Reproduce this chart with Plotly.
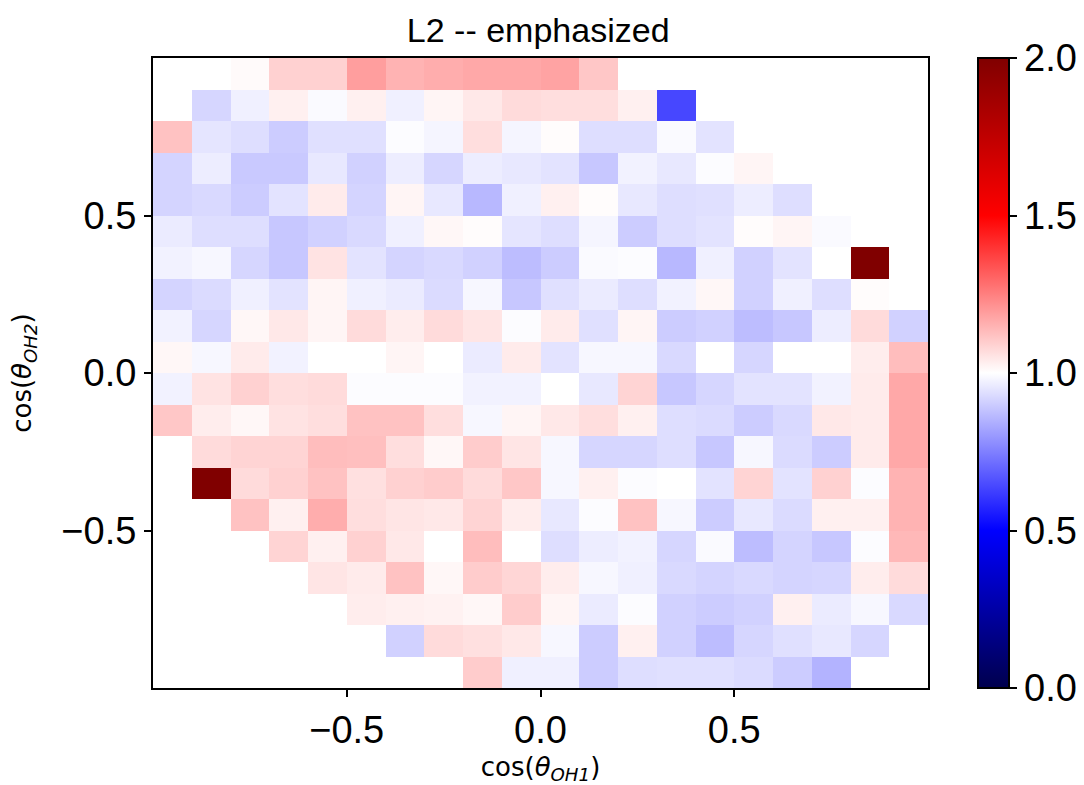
import plotly.graph_objects as go

# Bin centres of the 20 x 20 grid on [-1, 1] x [-1, 1]
x_centers = [round(-0.95 + 0.1 * i, 2) for i in range(20)]
y_centers_top_down = [round(0.95 - 0.1 * j, 2) for j in range(20)]

N = None  # empty bin

# Ratio values, one list per row, from the top row (cos θ_OH2 ≈ 0.95) downwards
row_00 = [N, N, 1.01, 1.09, 1.09, 1.19, 1.15, 1.16, 1.17, 1.17, 1.18, 1.11, N, N, N, N, N, N, N, N]
row_01 = [N, 0.92, 0.97, 1.03, 0.99, 1.03, 0.97, 1.02, 1.045, 1.07, 1.065, 1.065, 1.03, 0.64, N, N, N, N, N, N]
row_02 = [1.12, 0.95, 0.935, 0.90, 0.94, 0.94, 0.995, 0.98, 1.065, 0.98, 1.005, 0.935, 0.935, 0.99, 0.945, N, N, N, N, N]
row_03 = [0.915, 0.965, 0.895, 0.895, 0.955, 0.91, 0.965, 0.92, 0.965, 0.955, 0.945, 0.89, 0.975, 0.955, 0.995, 1.02, N, N, N, N]
row_04 = [0.915, 0.925, 0.90, 0.945, 1.04, 0.915, 1.02, 0.955, 0.86, 0.97, 1.03, 1.005, 0.955, 0.935, 0.94, 0.965, 0.935, N, N, N]
row_05 = [0.96, 0.935, 0.935, 0.89, 0.91, 0.925, 0.97, 1.015, 1.005, 0.95, 0.935, 0.98, 0.90, 0.935, 0.945, 1.005, 1.02, 0.99, N, N]
row_06 = [0.975, 0.985, 0.92, 0.89, 1.055, 0.945, 0.915, 0.925, 0.91, 0.87, 0.90, 0.99, 0.995, 0.86, 0.97, 0.91, 0.945, 1.0, 2.0, N]
row_07 = [0.915, 0.93, 0.97, 0.945, 1.02, 0.97, 0.96, 0.93, 0.985, 0.89, 0.94, 0.96, 0.935, 0.975, 1.015, 0.91, 0.97, 0.935, 1.005, N]
row_08 = [0.975, 0.92, 1.015, 1.045, 1.02, 1.07, 1.035, 1.07, 1.05, 0.995, 1.04, 0.94, 1.02, 0.90, 0.91, 0.87, 0.89, 0.965, 1.07, 0.91]
row_09 = [1.015, 0.985, 1.04, 0.975, 1.0, 1.0, 1.02, 1.0, 0.96, 1.04, 0.945, 0.985, 0.985, 0.925, 1.0, 0.92, 1.0, 1.0, 1.035, 1.13]
row_10 = [0.975, 1.055, 1.09, 1.065, 1.07, 0.995, 0.995, 0.995, 0.975, 0.975, 1.0, 0.955, 1.085, 0.89, 0.92, 0.945, 0.945, 0.975, 1.04, 1.17]
row_11 = [1.11, 1.035, 1.015, 1.055, 1.065, 1.12, 1.12, 1.065, 0.985, 1.02, 1.045, 1.065, 1.03, 0.935, 0.93, 0.90, 0.925, 1.045, 1.04, 1.17]
row_12 = [N, 1.07, 1.085, 1.085, 1.13, 1.125, 1.065, 1.015, 1.10, 1.05, 0.985, 0.92, 0.92, 0.935, 0.89, 0.985, 0.93, 0.90, 1.04, 1.17]
row_13 = [N, 2.0, 1.07, 1.09, 1.12, 1.06, 1.09, 1.10, 1.07, 1.11, 0.985, 1.03, 0.995, 1.0, 0.945, 1.085, 0.945, 1.09, 0.995, 1.15]
row_14 = [N, N, 1.12, 1.03, 1.16, 1.065, 1.05, 1.045, 1.085, 1.035, 0.955, 0.995, 1.12, 0.985, 0.90, 0.955, 0.93, 1.03, 1.03, 1.15]
row_15 = [N, N, N, 1.085, 1.03, 1.09, 1.045, 1.0, 1.13, 1.0, 0.935, 0.965, 0.975, 0.92, 0.99, 0.87, 0.915, 0.89, 0.995, 1.14]
row_16 = [N, N, N, N, 1.05, 1.04, 1.12, 1.015, 1.10, 1.08, 1.035, 0.985, 0.97, 0.925, 0.915, 0.925, 0.915, 0.92, 1.035, 1.07]
row_17 = [N, N, N, N, N, 1.035, 1.03, 1.025, 1.015, 1.10, 1.02, 0.96, 0.995, 0.91, 0.90, 0.91, 1.03, 0.96, 0.985, 0.925]
row_18 = [N, N, N, N, N, N, 0.91, 1.07, 1.06, 1.045, 0.985, 0.90, 1.03, 0.91, 0.87, 0.92, 0.94, 0.955, 0.92, N]
row_19 = [N, N, N, N, N, N, N, N, 1.10, 0.97, 0.97, 0.90, 0.935, 0.94, 0.94, 0.93, 0.90, 0.85, N, N]

rows_top_down = [row_00, row_01, row_02, row_03, row_04, row_05, row_06, row_07, row_08, row_09,
                 row_10, row_11, row_12, row_13, row_14, row_15, row_16, row_17, row_18, row_19]

axis_ticks = [-0.5, 0.0, 0.5]
cbar_ticks = [0.0, 0.5, 1.0, 1.5, 2.0]

# Diverging blue-white-red scale centred on 1
seismic = [
    [0.0, "rgb(0,0,77)"],
    [0.25, "rgb(0,0,255)"],
    [0.5, "rgb(255,255,255)"],
    [0.75, "rgb(255,0,0)"],
    [1.0, "rgb(128,0,0)"],
]

sans = "Liberation Sans, Arial, sans-serif"
math_font = "DejaVu Sans, sans-serif"
tick_size = 38
label_size = 26

fig = go.Figure(
    go.Heatmap(
        x=x_centers,
        y=y_centers_top_down[::-1],
        z=rows_top_down[::-1],
        colorscale=seismic,
        zmin=0,
        zmax=2,
        hoverongaps=False,
        colorbar=dict(
            x=1.052,
            xanchor="left",
            y=0.5,
            yanchor="middle",
            len=1.0,
            lenmode="fraction",
            ypad=0,
            thickness=31,
            thicknessmode="pixels",
            outlinewidth=2,
            outlinecolor="black",
            ticks="outside",
            ticklen=7,
            tickwidth=2,
            tickcolor="black",
            tickvals=cbar_ticks,
            ticktext=[f"{v:.1f}" for v in cbar_ticks],
            tickfont=dict(size=tick_size, color="black", family=sans),
        ),
    )
)

axis_common = dict(
    range=[-1, 1],
    showgrid=False,
    zeroline=False,
    showline=True,
    mirror=True,
    linewidth=2,
    linecolor="black",
    ticks="outside",
    ticklen=7,
    tickwidth=2,
    tickcolor="black",
    tickvals=axis_ticks,
    ticktext=[f"{v:.1f}".replace("-", "\u2212") for v in axis_ticks],
    tickfont=dict(size=tick_size, color="black", family=sans),
)

fig.update_xaxes(
    **axis_common,
    title=dict(text="cos(<i>θ</i><sub><i>OH1</i></sub>)", font=dict(size=label_size, color="black", family=math_font), standoff=12),
)
fig.update_yaxes(
    **axis_common,
    title=dict(text="cos(<i>θ</i><sub><i>OH2</i></sub>)", font=dict(size=label_size, color="black", family=math_font), standoff=22),
)

fig.update_layout(
    width=1084,
    height=785,
    margin=dict(l=153, r=156, t=58, b=97, autoexpand=False),
    paper_bgcolor="white",
    plot_bgcolor="white",
    title=dict(
        text="L2 -- emphasized",
        x=0.4965,
        xanchor="center",
        y=0.962,
        yanchor="middle",
        font=dict(size=34, color="black", family=sans),
    ),
)

fig.write_html("out.html")
